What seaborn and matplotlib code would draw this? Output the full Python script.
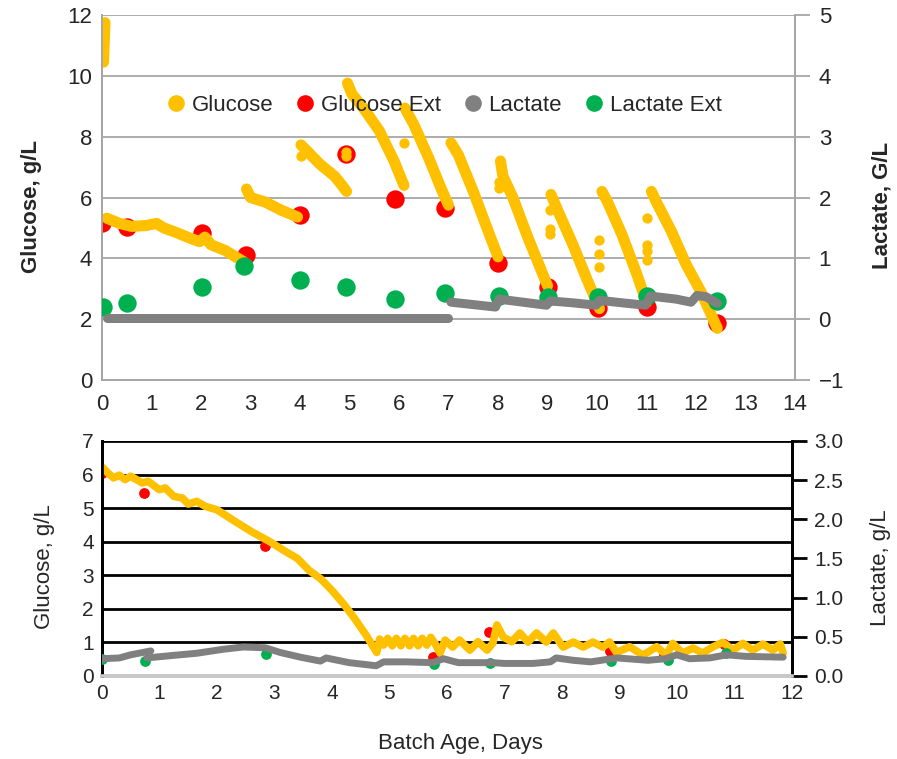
import numpy as np
import pandas as pd
import matplotlib
matplotlib.use("Agg")
import matplotlib.pyplot as plt
from matplotlib.lines import Line2D
from matplotlib.ticker import FormatStrFormatter
import seaborn as sns

YELLOW, RED, GRAY, GREEN = "#FFC000", "#FF0000", "#808080", "#00B050"

# ---------------- top run (fed daily), days vs g/L ----------------
top_glc_days = [
    [0.03, 0.04, 0.05, 0.06],
    [0.1, 0.35, 0.6, 0.9, 1.1, 1.25, 1.5, 1.8, 1.97, 2.08, 2.2, 2.5, 2.85],
    [2.92, 3.0, 3.3, 3.6, 3.95],
    [4.02, 4.1, 4.4, 4.7, 4.85, 4.94],
    [4.96, 5.05, 5.3, 5.6, 5.9, 6.1],
    [6.12, 6.3, 6.6, 6.85, 7.0],
    [7.05, 7.2, 7.5, 7.8, 8.0],
    [8.05, 8.1, 8.3, 8.6, 9.0],
    [9.07, 9.2, 9.5, 9.8, 10.05],
    [10.1, 10.2, 10.5, 10.8, 11.0],
    [11.1, 11.2, 11.5, 11.8, 12.1, 12.43],
]
top_glc_vals = [
    [10.45, 10.9, 11.3, 11.75],
    [5.32, 5.15, 5.05, 5.08, 5.15, 5.0, 4.85, 4.65, 4.55, 4.7, 4.45, 4.25, 3.9],
    [6.28, 6.0, 5.85, 5.6, 5.36],
    [7.73, 7.6, 7.1, 6.7, 6.4, 6.2],
    [9.76, 9.4, 8.9, 8.2, 7.2, 6.4],
    [8.94, 8.4, 7.3, 6.3, 5.75],
    [7.8, 7.4, 6.2, 4.9, 4.05],
    [7.2, 6.7, 6.0, 4.7, 3.1],
    [6.1, 5.6, 4.5, 3.3, 2.35],
    [6.2, 5.9, 4.8, 3.5, 2.55],
    [6.2, 5.85, 4.9, 3.8, 2.9, 1.7],
]
# stray online glucose readings
top_glc_odd_days = [4.02, 4.93, 4.93, 6.1, 8.02, 8.02, 9.05, 9.05, 9.05,
                    10.05, 10.05, 10.05, 11.0, 11.0, 11.0, 11.0]
top_glc_odd_vals = [7.35, 7.35, 7.5, 7.8, 6.5, 6.3, 5.6, 4.95, 4.8,
                    4.6, 4.15, 3.7, 5.33, 4.45, 4.25, 3.95]

top_lac_days = [
    [0.1, 3.0, 7.0],
    [7.05, 7.5, 7.95, 8.02, 8.5, 8.98, 9.05, 9.5, 9.98, 10.05, 10.5,
     10.98, 11.08, 11.6, 11.9, 12.02, 12.2, 12.43],
]
top_lac_vals = [
    [0.02, 0.02, 0.02],
    [0.28, 0.24, 0.2, 0.33, 0.28, 0.23, 0.3, 0.27, 0.23, 0.31, 0.27,
     0.23, 0.38, 0.33, 0.28, 0.39, 0.37, 0.26],
]

top_ext_days = [0.0, 0.5, 2.03, 2.9, 3.99, 4.92, 5.91, 6.92, 8.0, 9.0, 10.02, 11.0, 12.43]
top_glc_ext = [5.16, 5.03, 4.82, 4.1, 5.42, 7.43, 5.95, 5.65, 3.84, 3.06, 2.36, 2.4, 1.88]
top_lac_ext_days = [0.02, 0.5, 2.03, 2.87, 3.99, 4.92, 5.91, 6.92, 8.02, 9.0, 10.02, 11.0, 12.43]
top_lac_ext = [0.2, 0.26, 0.53, 0.87, 0.64, 0.53, 0.33, 0.43, 0.38, 0.36, 0.36, 0.38, 0.3]

# ---------------- bottom run (continuous feed) ----------------
bot_glc_days = [0.02, 0.1, 0.2, 0.3, 0.4, 0.5, 0.7, 0.8, 1.0, 1.1, 1.25, 1.4, 1.5, 1.65,
                1.8, 2.0, 2.3, 2.6, 2.9, 3.2, 3.4, 3.6, 3.8, 4.0, 4.2, 4.4, 4.6, 4.78,
                4.83, 4.9, 4.97, 5.05, 5.12, 5.2, 5.27, 5.35, 5.42, 5.5, 5.57, 5.65,
                5.72, 5.8, 5.88, 5.97, 6.1, 6.22, 6.4, 6.54, 6.7, 6.8, 6.87, 6.98,
                7.13, 7.27, 7.41, 7.56, 7.73, 7.85, 8.02, 8.2, 8.37, 8.54, 8.71, 8.83,
                8.95, 9.18, 9.41, 9.65, 9.82, 9.93, 10.1, 10.28, 10.45, 10.63, 10.8,
                10.98, 11.15, 11.32, 11.5, 11.67, 11.8, 11.85]
bot_glc_vals = [6.2, 6.05, 5.9, 5.98, 5.85, 5.95, 5.75, 5.8, 5.55, 5.6, 5.35, 5.3, 5.12, 5.2,
                5.05, 4.95, 4.62, 4.3, 4.02, 3.7, 3.5, 3.15, 2.9, 2.55, 2.15, 1.7, 1.2, 0.7,
                1.1, 0.92, 1.12, 0.9, 1.12, 0.9, 1.12, 0.9, 1.12, 0.9, 1.12, 0.92,
                1.15, 0.95, 0.68, 1.07, 0.86, 1.07, 0.77, 1.02, 0.77, 0.98, 1.52, 1.16,
                1.02, 1.28, 1.01, 1.28, 1.01, 1.28, 0.86, 1.01, 0.86, 1.01, 0.86, 1.01,
                0.7, 0.87, 0.62, 0.87, 0.62, 0.97, 0.68, 0.83, 0.68, 0.87, 1.0,
                0.77, 0.97, 0.77, 0.95, 0.77, 0.95, 0.68]

bot_lac_days = [
    [0.0, 0.3, 0.5, 0.85],
    [0.78, 1.2, 1.65, 2.1, 2.46, 2.84, 3.1, 3.45, 3.8, 3.9, 4.3, 4.77, 4.9, 5.3,
     5.75, 5.94, 6.2, 6.8, 7.0, 7.5, 7.8, 7.9, 8.2, 8.5, 8.96, 9.5, 9.8, 10.0,
     10.22, 10.57, 10.87, 11.2, 11.85],
]
bot_lac_vals = [
    [0.22, 0.23, 0.27, 0.32],
    [0.23, 0.26, 0.29, 0.34, 0.37, 0.36, 0.3, 0.24, 0.19, 0.23, 0.17, 0.13, 0.18, 0.18,
     0.17, 0.22, 0.17, 0.17, 0.16, 0.16, 0.18, 0.23, 0.2, 0.18, 0.23, 0.2, 0.22, 0.27,
     0.22, 0.23, 0.27, 0.25, 0.24],
]

bot_glc_ext_days = [0.0, 0.73, 2.83, 5.75, 6.73, 8.83, 9.78, 10.82]
bot_glc_ext = [6.04, 5.45, 3.87, 0.57, 1.31, 0.75, 0.65, 0.95]
bot_lac_ext_days = [0.0, 0.75, 2.85, 5.78, 6.75, 8.85, 9.85, 10.85]
bot_lac_ext = [0.22, 0.19, 0.28, 0.15, 0.17, 0.19, 0.2, 0.29]


def segments(days, vals, name):
    rows = []
    for i, (d, v) in enumerate(zip(days, vals)):
        rows.append(pd.DataFrame({"day": d, name: v, "seg": i}))
    return pd.concat(rows, ignore_index=True)


sns.set_style("white")
plt.rcParams["font.family"] = ["Liberation Sans", "DejaVu Sans"]

fig = plt.figure(figsize=(8.97, 7.59), dpi=100)
ax = fig.add_axes([0.1137, 0.4993, 0.7726, 0.4809])
ax2 = ax.twinx()

# top panel
glc_df = segments(top_glc_days, top_glc_vals, "glc")
lac_df = segments(top_lac_days, top_lac_vals, "lac")

sns.scatterplot(x=top_ext_days, y=top_glc_ext, color=RED, s=175, linewidth=0, ax=ax, zorder=3)
sns.lineplot(data=glc_df, x="day", y="glc", units="seg", estimator=None, sort=False,
             color=YELLOW, lw=8, solid_capstyle="round", ax=ax, zorder=4)
sns.scatterplot(x=top_glc_odd_days, y=top_glc_odd_vals, color=YELLOW, s=55, linewidth=0,
                ax=ax, zorder=4)
sns.scatterplot(x=top_lac_ext_days, y=top_lac_ext, color=GREEN, s=175, linewidth=0, ax=ax2, zorder=3)
sns.lineplot(data=lac_df, x="day", y="lac", units="seg", estimator=None, sort=False,
             color=GRAY, lw=6.5, solid_capstyle="round", ax=ax2, zorder=4)

ax.set_xlim(0, 14)
ax.set_ylim(0, 12)
ax.set_xticks(range(0, 15))
ax.set_yticks(range(0, 13, 2))
ax2.set_ylim(-1, 5)
ax2.set_yticks(range(-1, 6))
ax2.set_yticklabels(["\u22121"] + [str(i) for i in range(0, 6)])
ax.set_axisbelow(True)
ax.grid(axis="y", color="#A6A6A6", lw=1.3)
ax.grid(axis="x", visible=False)
ax2.grid(False)
for a in (ax, ax2):
    a.spines["top"].set_visible(False)
    for s in ("left", "bottom", "right"):
        a.spines[s].set_color("#A6A6A6")
        a.spines[s].set_linewidth(1.3)
ax.tick_params(axis="both", length=0, labelsize=16, pad=7)
ax.tick_params(axis="x", pad=10)
ax2.tick_params(axis="y", length=11, width=1.3, color="#A6A6A6", direction="out",
                labelsize=16, pad=6)
ax.set_xlabel("")
ax.set_ylabel("Glucose, g/L", fontsize=16, fontweight="bold")
ax.yaxis.set_label_coords(-0.087, 0.475)
ax2.set_ylabel("Lactate, G/L", fontsize=16, fontweight="bold")
ax2.yaxis.set_label_coords(1.111, 0.477)

handles = [Line2D([], [], ls="", marker="o", markersize=12, color=c, markeredgewidth=0)
           for c in (YELLOW, RED, GRAY, GREEN)]
ax.legend(handles, ["Glucose", "Glucose Ext", "Lactate", "Lactate Ext"], loc="center",
          bbox_to_anchor=(0.494, 0.753), ncol=4, frameon=False, fontsize=16,
          handlelength=0.8, handletextpad=0.3, columnspacing=1.05)

# bottom panel
bx = fig.add_axes([0.1137, 0.1094, 0.769, 0.3096])
bx2 = bx.twinx()
blac_df = segments(bot_lac_days, bot_lac_vals, "lac")

sns.scatterplot(x=bot_glc_ext_days, y=bot_glc_ext, color=RED, s=60, linewidth=0, ax=bx, zorder=3)
sns.lineplot(x=bot_glc_days, y=bot_glc_vals, sort=False, color=YELLOW, lw=5.5,
             solid_capstyle="round", ax=bx, zorder=4)
sns.scatterplot(x=bot_lac_ext_days, y=bot_lac_ext, color=GREEN, s=60, linewidth=0, ax=bx2, zorder=3)
sns.lineplot(data=blac_df, x="day", y="lac", units="seg", estimator=None, sort=False,
             color=GRAY, lw=5, solid_capstyle="round", ax=bx2, zorder=4)

bx.set_xlim(0, 12)
bx.set_ylim(0, 7)
bx.set_xticks(range(0, 13))
bx.set_yticks(range(0, 8))
bx2.set_ylim(0, 3)
bx2.set_yticks(np.arange(0, 3.01, 0.5))
bx2.yaxis.set_major_formatter(FormatStrFormatter("%.1f"))
bx.set_axisbelow(True)
bx.grid(axis="y", color="black", lw=2)
bx.grid(axis="x", visible=False)
bx2.grid(False)
for a in (bx, bx2):
    a.spines["top"].set_visible(False)
    a.spines["left"].set_color("black")
    a.spines["left"].set_linewidth(2)
    a.spines["right"].set_color("black")
    a.spines["right"].set_linewidth(2)
    a.spines["bottom"].set_color("#C8C8C8")
    a.spines["bottom"].set_linewidth(2.6)
bx.tick_params(axis="both", length=0, labelsize=15, pad=6)
bx2.tick_params(axis="y", length=11, width=2, color="black", direction="out",
                labelsize=15, pad=5)
bx.set_ylabel("Glucose, g/L", fontsize=16)
bx.yaxis.set_label_coords(-0.068, 0.464)
bx2.set_ylabel("Lactate, g/L", fontsize=16)
bx2.yaxis.set_label_coords(1.113, 0.46)
bx.set_xlabel("Batch Age, Days", fontsize=16)
bx.xaxis.set_label_coords(0.52, -0.243)

fig.savefig("out.png", dpi=100)
